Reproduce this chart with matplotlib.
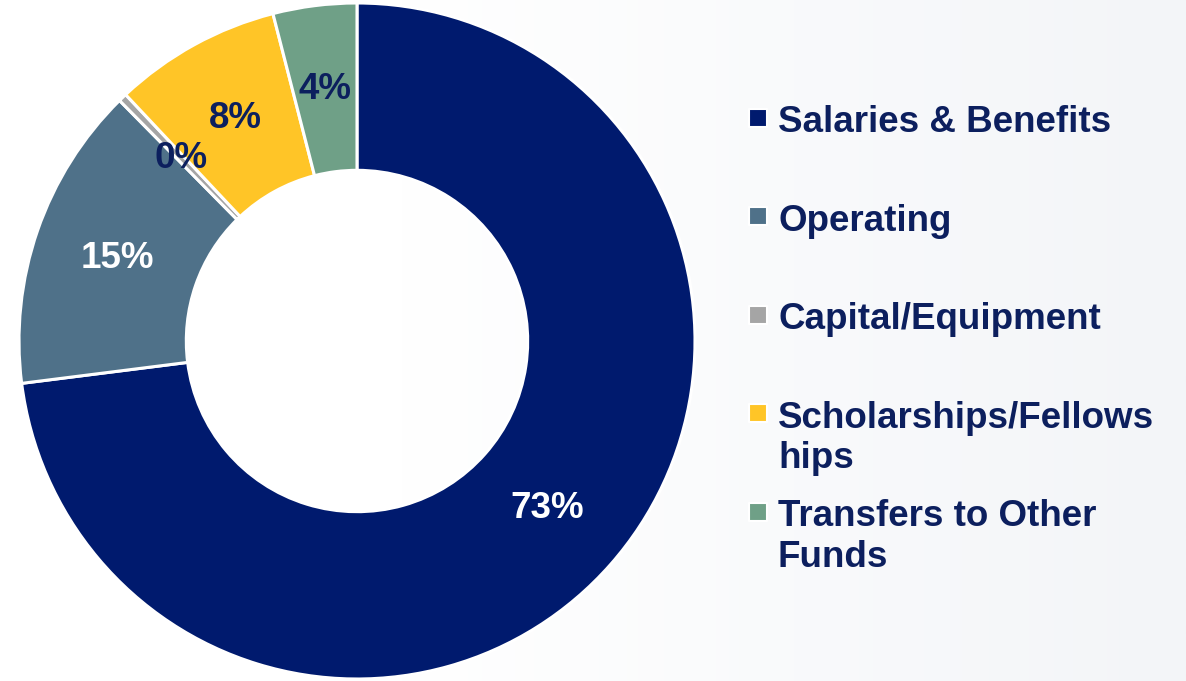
import matplotlib
matplotlib.use("Agg")
import matplotlib.pyplot as plt
import numpy as np

# ── Data ──────────────────────────────────────────────────────────────────────
categories = ["Salaries & Benefits", "Operating", "Capital/Equipment",
              "Scholarships/Fellowships", "Transfers to Other Funds"]
legend_lines = ["Salaries & Benefits", "Operating", "Capital/Equipment",
                "Scholarships/Fellows\nhips", "Transfers to Other\nFunds"]
shares = [73.0, 14.6, 0.4, 8.0, 4.0]

# ── Style ─────────────────────────────────────────────────────────────────────
NAVY = "#0c1f5e"
colors = ["#001a6e", "#4f7189", "#a5a5a5", "#ffc527", "#6fa087"]
label_colors = ["white", "white", NAVY, NAVY, NAVY]

plt.rcParams.update({
    "font.family": ["Liberation Sans", "DejaVu Sans"],
    "font.weight": "bold",
})

W, H = 1186, 681
fig = plt.figure(figsize=(W / 100, H / 100), dpi=100)

# soft background gradient (white on the left, pale grey-blue on the right)
bg = fig.add_axes([0, 0, 1, 1], zorder=0)
grad = np.clip((np.linspace(0, 1, 512) - 0.34) / 0.66, 0, 1)[None, :]
c0 = np.array([1.0, 1.0, 1.0])
c1 = np.array([0xf3, 0xf5, 0xf8]) / 255
img = c0 + (c1 - c0) * grad[..., None]
bg.imshow(img, aspect="auto", extent=[0, 1, 0, 1])
bg.set_xlim(0, 1)
bg.set_ylim(0, 1)
bg.set_axis_off()

# ── Donut ─────────────────────────────────────────────────────────────────────
cx, cy, r = 357, 341, 338
ax = fig.add_axes([(cx - r) / W, (H - cy - r) / H, 2 * r / W, 2 * r / H], zorder=1)
wedges, texts, autotexts = ax.pie(
    shares, colors=colors, startangle=90, counterclock=False,
    autopct="%.0f%%", pctdistance=0.75,
    wedgeprops=dict(width=0.495, edgecolor="white", linewidth=2.2),
    textprops=dict(fontsize=26.5, fontweight="bold"),
)
for t, c in zip(autotexts, label_colors):
    t.set_color(c)
ax.set_xlim(-1.0, 1.0)
ax.set_ylim(-1.0, 1.0)
ax.set_aspect("equal")
ax.set_axis_off()

# ── Legend (PowerPoint style, fixed row pitch) ────────────────────────────────
y0, pitch = 132, 98.5
for i, (lab, col) in enumerate(zip(legend_lines, colors)):
    yb = y0 + i * pitch
    for j, line in enumerate(lab.split("\n")):
        fig.text(778 / W, 1 - (yb + j * 41) / H, line, fontsize=26.5,
                 fontweight="bold", color=NAVY, va="baseline", ha="left",
                 zorder=3)
    bg.scatter([758 / W], [1 - (yb - 14) / H], marker="s", s=150,
               color=col, edgecolors="white", linewidths=1.5, zorder=3)

fig.savefig("out.png", dpi=100)
